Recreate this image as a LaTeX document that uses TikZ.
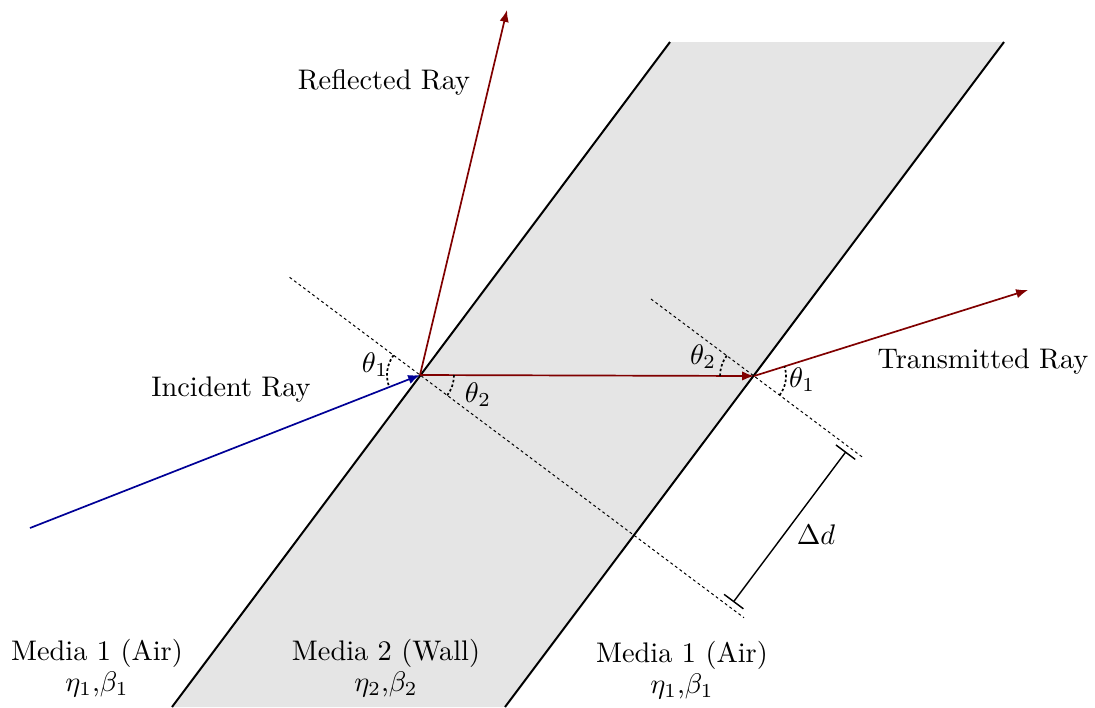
\documentclass[tikz,border=0pt]{standalone}
\usetikzlibrary{arrows.meta,calc}
\definecolor{raybl}{RGB}{0,0,150}
\definecolor{rayrd}{RGB}{128,0,0}
\begin{document}
\begin{tikzpicture}[x=0.353pt,y=0.353pt,
  wall/.style={line width=0.7pt,black},
  ray/.style={line width=0.6pt,-{Latex[length=4.2pt,width=3.3pt]}},
  normal/.style={line width=0.35pt,dash pattern=on 1pt off 1pt},
  anglearc/.style={line width=0.6pt,dash pattern=on 0.9pt off 0.8pt},
  lbl/.style={inner sep=0pt,align=center}]
\useasboundingbox (0,0) rectangle (1095,-707);
% wall slab
\coordinate (WL1) at (172,-707);
\coordinate (WL2) at (670,-42);
\coordinate (WR1) at (505,-707);
\coordinate (WR2) at (1004,-42);
\fill[black!10] (WL1) -- (WL2) -- (WR2) -- (WR1) -- cycle;
\draw[wall] (WL1) -- (WL2);
\draw[wall] (WR1) -- (WR2);
% key points
\coordinate (A) at (420,-375);
\coordinate (B) at (754,-376);
\coordinate (S) at (30,-528);
\coordinate (R) at (507,-10);
\coordinate (T) at (1028,-290);
% normals
\coordinate (N1a) at (289.6,-277.3);
\coordinate (N1b) at (744,-617.7);
\coordinate (N2a) at (651,-299);
\coordinate (N2b) at (863.6,-458);
\draw[normal] (N1a) -- (N1b);
\draw[normal] (N2a) -- (N2b);
% rays
\draw[ray,raybl] (S) -- (A);
\draw[ray,rayrd] (A) -- (R);
\draw[ray,rayrd] (A) -- (B);
\draw[ray,rayrd] (B) -- (T);
% angle arcs
\draw[anglearc] (A) ++(143.2:33) arc[start angle=143.2,end angle=201.4,radius=33];
\draw[anglearc] (A) ++(-36.8:34) arc[start angle=-36.8,end angle=0,radius=34];
\draw[anglearc] (B) ++(143.2:34) arc[start angle=143.2,end angle=180,radius=34];
\draw[anglearc] (B) ++(-36.8:32) arc[start angle=-36.8,end angle=17.4,radius=32];
\node[lbl] (t1a) at (375,-365) {$\theta_1$};
\node[lbl] (t2a) at (478,-395) {$\theta_2$};
\node[lbl] (t2b) at (703,-357) {$\theta_2$};
\node[lbl] (t1b) at (802,-380) {$\theta_1$};
% delta d
\coordinate (P1) at (733.3,-602.1);
\coordinate (P2) at (846,-451.6);
\draw[line width=0.5pt,{Bar[width=8.5pt,line width=0.5pt]}-{Bar[width=8.5pt,line width=0.5pt]}] (P1) -- (P2);
\node[lbl] (dd) at (816,-535) {$\Delta d$};
% labels
\node[lbl] (refl) at (384,-82) {Reflected Ray};
\node[lbl] (inc) at (231,-390) {Incident Ray};
\node[lbl] (trans) at (983,-362) {Transmitted Ray};
\node[lbl] (m1) at (97,-668) {Media 1 (Air)\\[-1pt]$\eta_1$,$\beta_1$};
\node[lbl] (m2) at (386,-668) {Media 2 (Wall)\\[-1pt]$\eta_2$,$\beta_2$};
\node[lbl] (m3) at (682,-670) {Media 1 (Air)\\[-1pt]$\eta_1$,$\beta_1$};
\end{tikzpicture}
\end{document}
